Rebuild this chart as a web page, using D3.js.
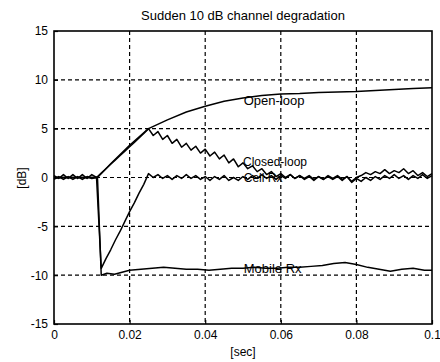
<!DOCTYPE html>
<html>
<head>
<meta charset="utf-8">
<title>Sudden 10 dB channel degradation</title>
<script src="https://d3js.org/d3.v7.min.js"></script>
<style>
  body { margin: 0; background: #fff; }
  text { font-family: Arial, "Liberation Sans", sans-serif; fill: #000; }
  .tick text { font-size: 12px; }
  .grid line { stroke: #000; stroke-width: 1.2; stroke-dasharray: 4,3; }
  .curve { fill: none; stroke: #000; stroke-width: 1.5; stroke-linejoin: round; }
</style>
</head>
<body>
<div id="chart"></div>
<script>
// time axis ticks [sec] and dB ticks
const xTicks = [0, 0.02, 0.04, 0.06, 0.08, 0.1];
const yTicks = [-15, -10, -5, 0, 5, 10, 15];

// power control samples every 1.25 ms (81 samples 0 .. 0.1 s)
const slot = 0.00125;

const closedLoop = [
  0.2, -0.1, 0.3, -0.1, 0.3, -0.1, 0.3, -0.1, 0.3, 0,
  0.45, 0.9, 1.35, 1.8, 2.25, 2.7, 3.15, 3.6, 4.05, 4.5, 5.0,
  4.3, 4.7, 3.9, 4.3, 3.5, 3.9, 3.1, 3.5, 2.8, 3.2, 2.5, 2.9, 2.2, 2.6, 1.9, 2.3, 1.5, 1.9, 1.1, 1.5,
  0.9, 1.2, 0.6, 0.9, 0.3, 0.6, 0.1, 0.4, 0.0, 0.3, -0.1, 0.2, -0.1, 0.2, -0.2, 0.1, -0.2, 0.1, -0.2, 0.1,
  -0.3, 0.1, -0.4, 0.0, 0.2, 0.5, 0.3, 0.6, 0.4, 0.8, 0.4, 0.7, 0.5, 0.9, 0.4, 0.7, 0.2, 0.5, 0.1, 0.4
];

const cellRx = [
  -0.2, 0.1, -0.2, 0.1, -0.2, 0.1, -0.2, 0.1, -0.1, 0,
  -9.3, -8.3, -7.4, -6.4, -5.5, -4.5, -3.5, -2.6, -1.6, -0.7, 0.4,
  0.0, 0.3, -0.1, 0.2, -0.2, 0.2, -0.1, 0.3, -0.1, 0.2, -0.2, 0.1, -0.3, 0.1, -0.2, 0.2, -0.3, 0.0, -0.3, 0.1,
  -0.2, 0.2, -0.1, 0.3, -0.1, 0.2, -0.2, 0.2, -0.1, 0.3, -0.1, 0.2, -0.2, 0.1, -0.3, 0.1, -0.2, 0.2, -0.1, 0.2,
  -0.2, 0.1, -0.5, -0.1, -0.4, 0.0, -0.3, 0.1, -0.2, 0.2, -0.1, 0.3, -0.1, 0.2, -0.2, 0.2, -0.1, 0.3, -0.1, 0.2
];

const openLoopT = [0, 0.0115, 0.015, 0.02, 0.025, 0.03, 0.035, 0.04, 0.045, 0.05, 0.055, 0.06, 0.065, 0.07, 0.075, 0.08, 0.085, 0.09, 0.095, 0.1];
const openLoop  = [0, 0, 1.4, 3.3, 5.0, 5.9, 6.7, 7.3, 7.8, 8.15, 8.4, 8.55, 8.6, 8.7, 8.75, 8.8, 8.9, 9.0, 9.1, 9.2];

const mobileRxT = [0, 0.0115, 0.0125, 0.014, 0.016, 0.018, 0.02, 0.023, 0.026, 0.029, 0.032, 0.035, 0.038, 0.041, 0.044, 0.047, 0.05, 0.053, 0.056, 0.059, 0.062, 0.065, 0.068, 0.071, 0.074, 0.077, 0.08, 0.083, 0.086, 0.089, 0.092, 0.095, 0.098, 0.1];
const mobileRx  = [0, 0, -10, -9.8, -9.9, -9.7, -9.5, -9.4, -9.3, -9.2, -9.3, -9.4, -9.4, -9.5, -9.4, -9.3, -9.3, -9.2, -9.3, -9.3, -9.2, -9.2, -9.1, -9.0, -8.8, -8.7, -8.9, -9.2, -9.4, -9.6, -9.4, -9.3, -9.5, -9.5];

// curve labels (placed like gtext, in data coordinates)
const labels = [
  { text: "Open-loop",   t: 0.0502, v: 7.9,  size: 13 },
  { text: "Closed-loop", t: 0.0500, v: 1.6,  size: 12 },
  { text: "Cell Rx",     t: 0.0502, v: 0.0,  size: 12 },
  { text: "Mobile Rx",   t: 0.0502, v: -9.3, size: 13 }
];

const W = 440, H = 362;
const m = { left: 54, right: 432, top: 31, bottom: 324 };

const svg = d3.select("#chart").append("svg")
  .attr("width", W)
  .attr("height", H);

const x = d3.scaleLinear().domain([0, 0.1]).range([m.left, m.right]);
const y = d3.scaleLinear().domain([-15, 15]).range([m.bottom, m.top]);

// grid
const grid = svg.append("g").attr("class", "grid");
grid.selectAll(".gx")
  .data(xTicks.slice(1, -1))
  .enter().append("line")
  .attr("x1", d => x(d)).attr("x2", d => x(d))
  .attr("y1", m.top).attr("y2", m.bottom);
grid.selectAll(".gy")
  .data(yTicks.slice(1, -1))
  .enter().append("line")
  .attr("x1", m.left).attr("x2", m.right)
  .attr("y1", d => y(d)).attr("y2", d => y(d));

// axes (ticks point inwards like matlab), plain hyphen for minus
const xAxis = d3.axisBottom(x).tickValues(xTicks).tickSize(-4).tickPadding(8)
  .tickFormat(d => String(+d.toFixed(2)));
const yAxis = d3.axisLeft(y).tickValues(yTicks).tickSize(-4).tickPadding(6)
  .tickFormat(d => String(d));

const gx = svg.append("g").attr("transform", `translate(0,${m.bottom})`).call(xAxis);
const gy = svg.append("g").attr("transform", `translate(${m.left},0)`).call(yAxis);
[gx, gy].forEach(g => {
  g.select(".domain").remove();
  g.selectAll(".tick line").attr("stroke", "#000").attr("stroke-width", 1.2);
});
gx.selectAll(".tick text").attr("dy", "0.6em");

// box
svg.append("rect")
  .attr("x", m.left).attr("y", m.top)
  .attr("width", m.right - m.left).attr("height", m.bottom - m.top)
  .attr("fill", "none").attr("stroke", "#000").attr("stroke-width", 1.6);

// curves
const line = d3.line().x(d => x(d[0])).y(d => y(d[1]));
const series = [
  openLoopT.map((t, i) => [t, openLoop[i]]),
  closedLoop.map((v, i) => [i * slot, v]),
  cellRx.map((v, i) => [i * slot, v]),
  mobileRxT.map((t, i) => [t, mobileRx[i]])
];
svg.selectAll(".curve")
  .data(series)
  .enter().append("path")
  .attr("class", "curve")
  .attr("d", line);

// labels on the curves
svg.selectAll(".lbl")
  .data(labels)
  .enter().append("text")
  .attr("class", "lbl")
  .attr("x", d => x(d.t))
  .attr("y", d => y(d.v))
  .attr("dy", "0.35em")
  .style("font-size", d => d.size + "px")
  .text(d => d.text);

// title and axis titles
svg.append("text")
  .attr("x", 243).attr("y", 20)
  .attr("text-anchor", "middle")
  .style("font-size", "13px")
  .text("Sudden 10 dB channel degradation");

svg.append("text")
  .attr("x", 243).attr("y", 356)
  .attr("text-anchor", "middle")
  .style("font-size", "12px")
  .text("[sec]");

svg.append("text")
  .attr("transform", "translate(26,178) rotate(-90)")
  .attr("text-anchor", "middle")
  .style("font-size", "12px")
  .text("[dB]");
</script>
</body>
</html>
